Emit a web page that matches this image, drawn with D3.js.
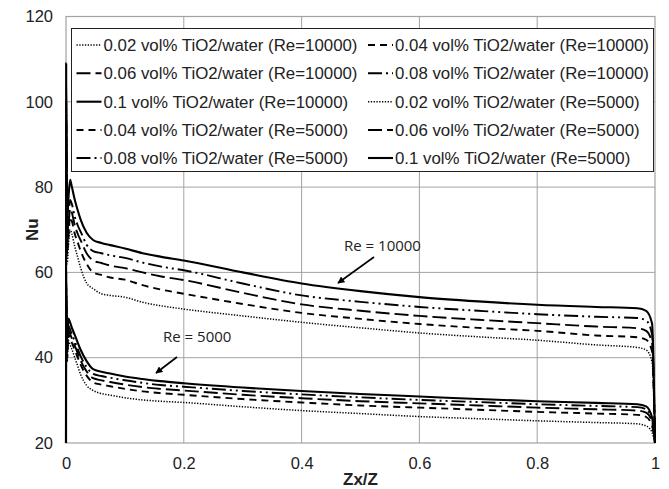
<!DOCTYPE html>
<html>
<head>
<meta charset="utf-8">
<script src="https://cdn.jsdelivr.net/npm/d3@7"></script>
<style>
  html, body { margin: 0; padding: 0; background: #fff; }
  svg { display: block; }
</style>
</head>
<body>
<svg id="chart" width="669" height="489"></svg>
<script>
// Axial position along the tube (Zx/Z), shared by every series
const zx = [0, 0.0003, 0.002, 0.004, 0.007, 0.01, 0.015, 0.02, 0.025, 0.035, 0.046, 0.06, 0.075, 0.1,
            0.13, 0.16, 0.2, 0.3, 0.4, 0.5, 0.6, 0.7, 0.8, 0.9, 0.97, 0.985, 0.995, 1];

// Local Nusselt number, Re = 10000
const nu10k_002 = [20, 88, 62, 66, 70, 69, 66, 63.5, 61, 57.5, 56.2, 55, 54.6, 54.2, 53, 52.2, 51.4, 49.8, 48.3, 47, 45.8, 44.9, 44.1, 43, 42.4, 41.8, 39, 20];
const nu10k_004 = [20, 92, 64, 68, 73, 72, 69, 67, 65, 62, 60, 59.4, 58.8, 58.3, 57, 56, 55, 52.6, 50.5, 49.1, 47.9, 47, 46.3, 45.2, 44.8, 44.2, 41.5, 20];
const nu10k_006 = [20, 96, 66, 70, 75, 74, 71, 69, 67.5, 64.5, 62.8, 62.2, 61.6, 61, 60, 59.1, 58.2, 55.2, 52.5, 51, 49.8, 48.9, 48.1, 47.3, 46.9, 46.3, 43.5, 20];
const nu10k_008 = [20, 100, 68, 72, 77, 76, 73, 71, 69.5, 66.5, 65, 64.5, 64, 63.4, 62.3, 61.4, 60.5, 57.4, 54.6, 53.1, 51.9, 51, 50.2, 49.6, 49.3, 48.7, 45.5, 20];
const nu10k_010 = [20, 109, 72, 77, 81.7, 80, 77, 74.5, 72.3, 69.3, 67.6, 66.9, 66.4, 65.6, 64.5, 63.7, 62.8, 60, 57.4, 55.6, 54.2, 53.2, 52.4, 51.9, 51.6, 51, 48, 20];

// Local Nusselt number, Re = 5000
const nu5k_002 = [20, 51, 39, 44, 43, 42, 40, 38, 36, 33.5, 32.3, 31.6, 31.2, 30.6, 30.1, 29.8, 29.5, 28.5, 27.6, 26.9, 26.2, 25.7, 25.2, 24.8, 24.5, 24, 22.5, 20];
const nu5k_004 = [20, 53, 40, 45.5, 44.6, 43.5, 41.8, 40, 38.3, 35.8, 34.2, 33.7, 33.3, 32.7, 32.1, 31.7, 31.3, 30.3, 29.5, 28.8, 28.3, 27.8, 27.3, 26.9, 26.6, 26.1, 24, 20];
const nu5k_006 = [20, 55, 41, 46.5, 45.6, 44.5, 42.8, 41, 39.3, 36.8, 35.2, 34.7, 34.3, 33.7, 33.1, 32.7, 32.3, 31.3, 30.5, 29.8, 29.3, 28.8, 28.3, 27.9, 27.6, 27.1, 25, 20];
const nu5k_008 = [20, 57, 42, 47.5, 46.6, 45.5, 43.8, 42, 40.3, 37.8, 36.2, 35.7, 35.3, 34.7, 34.1, 33.6, 33.2, 32.2, 31.4, 30.7, 30.1, 29.6, 29.1, 28.7, 28.4, 27.9, 25.5, 20];
const nu5k_010 = [20, 60, 44, 49.2, 48.2, 47, 45.3, 43.5, 41.8, 39.2, 37.3, 36.7, 36.3, 35.6, 35, 34.5, 34, 33, 32.2, 31.5, 30.9, 30.3, 29.8, 29.4, 29.1, 28.6, 26, 20];

// Series labels, in legend order
const seriesLabels = [
  "0.02 vol% TiO2/water (Re=10000)", "0.04 vol% TiO2/water (Re=10000)",
  "0.06 vol% TiO2/water (Re=10000)", "0.08 vol% TiO2/water (Re=10000)",
  "0.1 vol% TiO2/water (Re=10000)",  "0.02 vol% TiO2/water (Re=5000)",
  "0.04 vol% TiO2/water (Re=5000)",  "0.06 vol% TiO2/water (Re=5000)",
  "0.08 vol% TiO2/water (Re=5000)",  "0.1 vol% TiO2/water (Re=5000)"
];
const seriesValues = [nu10k_002, nu10k_004, nu10k_006, nu10k_008, nu10k_010,
                      nu5k_002, nu5k_004, nu5k_006, nu5k_008, nu5k_010];

// Tick values
const xTicks = [0, 0.2, 0.4, 0.6, 0.8, 1];
const yTicks = [20, 40, 60, 80, 100, 120];

// Line style per volume fraction: dotted, dash, long dash, long dash-dot-dot, solid
const styles = [
  { dash: "1.3,1.5", width: 1.5 },
  { dash: "7,5", width: 1.9 },
  { dash: "14,5", width: 1.9 },
  { dash: "14,4,2,4,2,4", width: 1.9 },
  { dash: null, width: 2.1 }
];

const svg = d3.select("#chart");
const plotLeft = 66, plotRight = 655, plotTop = 16.5, plotBottom = 443;
const sansFont = "Liberation Sans, Arial, sans-serif";

const x = d3.scaleLinear().domain([0, 1]).range([plotLeft, plotRight]);
const y = d3.scaleLinear().domain([20, 120]).range([plotBottom, plotTop]);

const gridColor = "#a3a3a3";

// Grid lines
svg.append("g").selectAll("line")
  .data(xTicks.slice(1, -1)).join("line")
  .attr("x1", d => x(d)).attr("x2", d => x(d))
  .attr("y1", plotTop).attr("y2", plotBottom)
  .attr("stroke", gridColor).attr("stroke-width", 1);
svg.append("g").selectAll("line")
  .data(yTicks.slice(1, -1)).join("line")
  .attr("x1", plotLeft).attr("x2", plotRight)
  .attr("y1", d => y(d)).attr("y2", d => y(d))
  .attr("stroke", gridColor).attr("stroke-width", 1);

// Plot frame
svg.append("rect")
  .attr("x", plotLeft).attr("y", plotTop)
  .attr("width", plotRight - plotLeft).attr("height", plotBottom - plotTop)
  .attr("fill", "none").attr("stroke", gridColor).attr("stroke-width", 1.2);

// Axes (labels only; the frame draws the lines)
const xAxis = d3.axisBottom(x).tickValues(xTicks).tickSize(0).tickPadding(10)
  .tickFormat(d => d3.format("~g")(d));
const yAxis = d3.axisLeft(y).tickValues(yTicks).tickSize(0).tickPadding(13)
  .tickFormat(d3.format("d"));

const gx = svg.append("g").attr("transform", `translate(0,${plotBottom})`).call(xAxis);
const gy = svg.append("g").attr("transform", `translate(${plotLeft},0)`).call(yAxis);
[gx, gy].forEach(g => {
  g.select(".domain").remove();
  g.selectAll("text")
    .attr("font-family", sansFont)
    .attr("font-size", "16.5px").attr("fill", "#222");
});
gx.selectAll("text").attr("dy", "0.95em");

// Axis titles
svg.append("text")
  .attr("x", x(0.5)).attr("y", 485)
  .attr("text-anchor", "middle")
  .attr("font-family", sansFont)
  .attr("font-weight", "bold").attr("font-size", "17px").attr("fill", "#222")
  .text("Zx/Z");
svg.append("text")
  .attr("transform", `translate(38,${y(70)}) rotate(-90)`)
  .attr("text-anchor", "middle")
  .attr("font-family", sansFont)
  .attr("font-weight", "bold").attr("font-size", "17px").attr("fill", "#222")
  .text("Nu");

// Curves
const defs = svg.append("defs");
defs.append("clipPath").attr("id", "plotClip")
  .append("rect").attr("x", plotLeft - 2).attr("y", plotTop)
  .attr("width", plotRight - plotLeft + 3).attr("height", plotBottom - plotTop + 1);

const line = d3.line()
  .x((d, i) => x(zx[i]))
  .y(d => y(d))
  .curve(d3.curveMonotoneX);

const curves = svg.append("g").attr("clip-path", "url(#plotClip)");
seriesValues.forEach((vals, k) => {
  const st = styles[k % 5];
  curves.append("path")
    .attr("d", line(vals))
    .attr("fill", "none")
    .attr("stroke", "#000")
    .attr("stroke-width", st.width)
    .attr("stroke-dasharray", st.dash)
    .attr("stroke-linejoin", "round");
});

// Annotations with arrows
defs.append("marker").attr("id", "arrowHead")
  .attr("viewBox", "0 0 10 10").attr("refX", 9).attr("refY", 5)
  .attr("markerWidth", 7).attr("markerHeight", 7)
  .attr("markerUnits", "userSpaceOnUse")
  .attr("orient", "auto")
  .append("path").attr("d", "M0,0 L10,5 L0,10 Z").attr("fill", "#000");

const notes = [
  { text: "Re = 10000", tx: 344, ty: 246, x1: 374, y1: 257, x2: 338, y2: 283 },
  { text: "Re = 5000", tx: 163, ty: 337, x1: 177, y1: 357, x2: 156, y2: 373 }
];
notes.forEach(n => {
  svg.append("text")
    .attr("x", n.tx).attr("y", n.ty).attr("dy", "0.35em")
    .attr("font-family", "Open Sans, sans-serif")
    .attr("font-size", "15px").attr("fill", "#222")
    .text(n.text);
  svg.append("line")
    .attr("x1", n.x1).attr("y1", n.y1).attr("x2", n.x2).attr("y2", n.y2)
    .attr("stroke", "#000").attr("stroke-width", 1.6)
    .attr("marker-end", "url(#arrowHead)");
});

// Legend
const legend = svg.append("g");
legend.append("rect")
  .attr("x", 71.5).attr("y", 28.5).attr("width", 582).attr("height", 143)
  .attr("fill", "#fff").attr("stroke", "#222").attr("stroke-width", 1);

// Size the legend font so a full "(Re=10000)" entry spans 254 px
const probe = svg.append("text").attr("font-family", sansFont).attr("font-size", "100px")
  .text(seriesLabels[0]);
const legendFontSize = 100 * 254 / probe.node().getComputedTextLength();
probe.remove();

const rowY = [45, 73.3, 101.7, 130, 158];
const colX = [76.5, 368];
seriesLabels.forEach((lab, k) => {
  const col = k % 2, row = Math.floor(k / 2);
  const st = styles[k % 5];
  const g = legend.append("g").attr("transform", `translate(${colX[col]},${rowY[row]})`);
  g.append("line")
    .attr("x1", 0).attr("x2", 25).attr("y1", 0).attr("y2", 0)
    .attr("stroke", "#000").attr("stroke-width", st.width)
    .attr("stroke-dasharray", st.dash);
  g.append("text")
    .attr("x", 27).attr("y", 0).attr("dy", "0.36em")
    .attr("font-family", sansFont)
    .attr("font-size", legendFontSize + "px").attr("fill", "#222")
    .text(lab);
});
</script>
</body>
</html>
